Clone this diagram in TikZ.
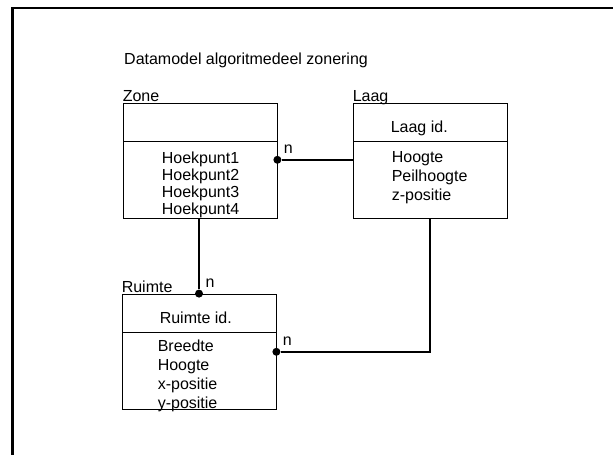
\documentclass[tikz,border=0pt]{standalone}
\usepackage{fontspec}
\setmainfont{Liberation Sans}
\usetikzlibrary{positioning}

\begin{document}
\begin{tikzpicture}[
            x=1pt, y=-1pt,
            font=\fontsize{16}{19}\selectfont,
            kop/.style={draw, line width=0.8pt, minimum width=154pt, minimum height=38pt, inner sep=0pt},
            deel/.style={kop, minimum height=77pt},
            tekst/.style={anchor=north west, inner sep=0pt, align=left},
            naam/.style={anchor=base west, inner sep=0pt},
            % verbindingen met een stip aan de n-kant
            verbinding/.style={line width=2pt},
            punt/.style={circle, fill, inner sep=0pt, minimum size=8pt},
            rand/.style={line width=2.5pt}
        ]
            \useasboundingbox (0,0) rectangle (613,455);

            % --- kader ---
            \draw[rand] (12.5,455) |- (613,8);

            \node[inner sep=0pt, anchor=west] (titel) at (124,60) {Datamodel algoritmedeel zonering};

            % --- Zone ---
            \node[kop] (zonekop) at (200,122) {};
            \node[deel, below=0pt of zonekop] (zonedeel) {};
            \node[naam] (zonenaam) at ([yshift=1.5pt]zonekop.north west) {Zone};
            \node[tekst, font=\fontsize{16}{17}\selectfont] (zonelijst) at ([shift={(39pt,-10pt)}]zonedeel.north west)
                {Hoekpunt1\\Hoekpunt2\\Hoekpunt3\\Hoekpunt4};

            % --- Laag ---
            \node[kop] (laagkop) at (430,122) {};
            \node[deel, below=0pt of laagkop] (laagdeel) {};
            \node[naam] (laagnaam) at ([yshift=1.5pt]laagkop.north west) {Laag};
            \node[tekst] (laagid) at ([shift={(38pt,-18pt)}]laagkop.north west) {Laag id.};
            \node[tekst] (laaglijst) at ([shift={(39pt,-10pt)}]laagdeel.north west)
                {Hoogte\\Peilhoogte\\z-positie};

            % --- Ruimte ---
            \node[kop] (ruimtekop) at (199,313) {};
            \node[deel, below=0pt of ruimtekop] (ruimtedeel) {};
            \node[naam] (ruimtenaam) at ([yshift=1.5pt]ruimtekop.north west) {Ruimte};
            \node[tekst] (ruimteid) at ([shift={(38pt,-18pt)}]ruimtekop.north west) {Ruimte id.};
            \node[tekst] (ruimtelijst) at ([shift={(36pt,-7pt)}]ruimtedeel.north west)
                {Breedte\\Hoogte\\x-positie\\y-positie};

            % --- relaties ---
            \node[punt, label={above right:n}] (zonepunt) at ([yshift=20.5pt]zonedeel.east) {};
            \draw[verbinding] (zonepunt) -- (zonepunt -| laagdeel.west);

            \node[punt, label={above right:n}] (ruimtepunt) at (ruimtekop.north) {};
            \draw[verbinding] (ruimtepunt) -- (ruimtepunt |- zonedeel.south);

            \node[punt, label={above right:n}] (laagpunt) at ([yshift=19.5pt]ruimtedeel.east) {};
            \draw[verbinding] (laagpunt) -| (laagdeel.south);
        \end{tikzpicture}
\end{document}
